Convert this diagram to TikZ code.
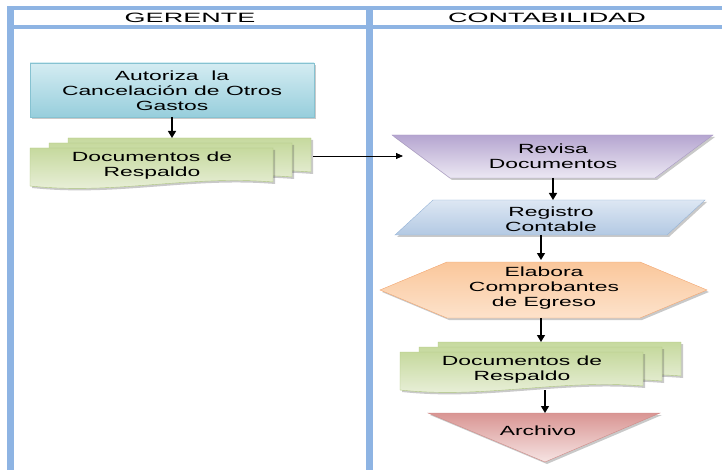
\documentclass[tikz,border=0pt]{standalone}
\usepackage{fontspec}
\setmainfont{Liberation Sans}
\newfontfamily\bodyfont{Liberation Sans}[FakeStretch=1.72]
\newfontfamily\headfont{Liberation Sans}[FakeStretch=2.0]
\usetikzlibrary{arrows.meta,shadows}

\definecolor{lane}{HTML}{8EB4E3}
\definecolor{cyanA}{HTML}{D4ECF2}
\definecolor{cyanB}{HTML}{97CEDC}
\definecolor{cyanL}{HTML}{86C2D1}
\definecolor{greenA}{HTML}{C6D99E}
\definecolor{greenB}{HTML}{EDF2E0}
\definecolor{greenL}{HTML}{B0C980}
\definecolor{purpleA}{HTML}{B5A5D0}
\definecolor{purpleB}{HTML}{ECE8F3}
\definecolor{purpleL}{HTML}{A898C4}
\definecolor{blueA}{HTML}{DDE7F3}
\definecolor{blueB}{HTML}{B3C9E3}
\definecolor{blueL}{HTML}{95B3D7}
\definecolor{orangeA}{HTML}{FAC79B}
\definecolor{orangeB}{HTML}{FDE2CB}
\definecolor{orangeL}{HTML}{F2A56F}
\definecolor{pinkA}{HTML}{D99593}
\definecolor{pinkB}{HTML}{F6E4E3}
\definecolor{pinkL}{HTML}{CF8986}

% one sheet of a multi-document symbol, top-left corner at (#1,#2)
\newcommand{\docsheet}[2]{%
  \begin{scope}[shift={(#1,#2)}]
    \path[soft, top color=greenA, bottom color=greenB, draw=greenL, line width=0.4pt]
      (0,0) -- (243,0) -- (243,34) .. controls (158,27) and (85,47) .. (0,38) -- cycle;
  \end{scope}}

\begin{document}
\begin{tikzpicture}[x=1pt,y=-1pt,
  lbl/.style={font=\bodyfont\fontsize{13.3}{15}\selectfont, align=center, text=black, inner sep=0pt},
  head/.style={font=\headfont\fontsize{13.5}{15}\selectfont, text=black, inner sep=0pt},
  flow/.style={-{Triangle[length=7pt,width=8pt]}, line width=1.3pt},
  link/.style={-{Triangle[length=7pt,width=6pt]}, line width=0.8pt},
  soft/.style={drop shadow={shadow xshift=2pt,shadow yshift=-2pt,opacity=0.3,fill=black!70}},
]
\useasboundingbox (0,0) rectangle (722,470);

% swimlane frame
\fill[lane] (7,6) rectangle (722,10);
\fill[lane] (7,25) rectangle (722,29);
\fill[lane] (7,6) rectangle (14,470);
\fill[lane] (366,6) rectangle (373,470);
\node[head] (gerente) at (190,17.5) {GERENTE};
\node[head] (contabilidad) at (547,17.5) {CONTABILIDAD};

% GERENTE lane
\path[soft, top color=cyanA, bottom color=cyanB, draw=cyanL, line width=0.4pt]
  (30,63) rectangle (314,117);
\node[lbl] (autoriza) at (172,91) {Autoriza\ \ la\\Cancelación de Otros\\Gastos};
\coordinate (autoriza-s) at (172,117);

\docsheet{68}{138}
\docsheet{49}{143}
\docsheet{30}{148}
\node[lbl] (docsA) at (152,166) {Documentos de\\Respaldo};
\coordinate (docsA-n) at (172,138);
\coordinate (docsA-e) at (313,156);

% CONTABILIDAD lane
\path[soft, top color=purpleA, bottom color=purpleB, draw=purpleL, line width=0.4pt]
  (392,135) -- (713,135) -- (655,178) -- (450,178) -- cycle;
\node[lbl] (revisa) at (553,156) {Revisa\\Documentos};
\coordinate (revisa-w) at (403,156);
\coordinate (revisa-s) at (553,178);

\path[soft, top color=blueA, bottom color=blueB, draw=blueL, line width=0.4pt]
  (433,200) -- (705,200) -- (667,235) -- (395,235) -- cycle;
\node[lbl] (registro) at (551,219) {Registro\\Contable};
\coordinate (registro-n) at (553,200);
\coordinate (registro-s) at (541,235);

\path[soft, top color=orangeA, bottom color=orangeB, draw=orangeL, line width=0.4pt]
  (447,262) -- (640,262) -- (707,290) -- (640,318) -- (447,318) -- (380,290) -- cycle;
\node[lbl] (elabora) at (544,288) {Elabora\\Comprobantes\\de Egreso};
\coordinate (elabora-n) at (541,260);
\coordinate (elabora-s) at (541,318);

\docsheet{438}{342}
\docsheet{419}{347}
\docsheet{400}{352}
\node[lbl] (docsB) at (522,370) {Documentos de\\Respaldo};
\coordinate (docsB-n) at (541,342);
\coordinate (docsB-s) at (545,390);

\path[soft, top color=pinkA, bottom color=pinkB, draw=pinkL, line width=0.4pt]
  (428,413) -- (660,413) -- (545,462) -- cycle;
\node[lbl] (archivo) at (538,431) {Archivo};
\coordinate (archivo-n) at (545,413);

% connectors
\draw[flow] (autoriza-s) -- (docsA-n);
\draw[link] (docsA-e) -- (revisa-w);
\draw[flow] (revisa-s) -- (registro-n);
\draw[flow] (registro-s) -- (elabora-n);
\draw[flow] (elabora-s) -- (docsB-n);
\draw[flow] (docsB-s) -- (archivo-n);
\end{tikzpicture}
\end{document}
